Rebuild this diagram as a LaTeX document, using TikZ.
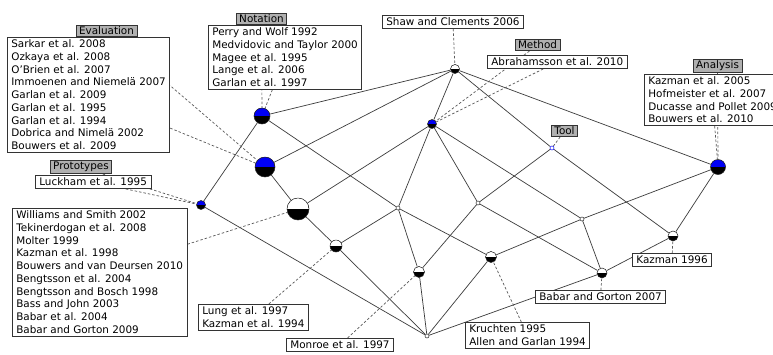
\documentclass[tikz,border=0pt]{standalone}
\usepackage{fontspec}
\newfontfamily\reffont{DejaVu Sans}
\usetikzlibrary{positioning,backgrounds}
\definecolor{hdrgray}{RGB}{176,176,176}
\definecolor{cptblue}{RGB}{0,0,245}
\definecolor{linkgray}{RGB}{60,60,60}

\begin{document}
\begin{tikzpicture}[x=1pt, y=-1pt,
    lbl/.style={draw=black!80, fill=white, line width=0.7pt, align=left, inner xsep=4pt, inner ysep=2.6pt, font=\reffont\fontsize{10.4}{12.7}\selectfont},
    hdr/.style={lbl, fill=hdrgray, inner xsep=3pt, inner ysep=1.6pt, anchor=south},
    cpt/.style={circle, draw=black!85, line width=0.5pt, fill=black, inner sep=0pt, minimum size=#1},
    half/.style={path picture={\fill[#1] (path picture bounding box.west) rectangle (path picture bounding box.north east);}},
    dot/.style={circle, draw=black!85, fill=white, line width=0.5pt, inner sep=0pt, minimum size=4pt},
    link/.style={draw=linkgray, line width=0.7pt},
    lead/.style={draw=black!65, line width=0.7pt, dash pattern=on 2.5pt off 2pt}
]
\useasboundingbox (0,0) rectangle (773,354);

% concepts
\node[cpt=9pt, half=white] (top) at (455,69) {};
\node[cpt=16pt, half=cptblue] (notation) at (262,116) {};
\node[cpt=20pt, half=cptblue] (evaluation) at (265,167) {};
\node[cpt=9pt, half=cptblue] (prototypes) at (201,205) {};
\node[cpt=22pt, half=white] (williams) at (298,209) {};
\node[cpt=9pt, half=cptblue] (method) at (432,124) {};
\node[dot, draw=cptblue] (tool) at (552,148) {};
\node[cpt=15pt, half=cptblue] (analysis) at (718,167) {};
\node[cpt=12pt, half=white] (lung) at (336,246) {};
\node[dot] (c1) at (398,208) {};
\node[dot] (c2) at (478,203) {};
\node[dot] (c3) at (582,219) {};
\node[cpt=10pt, half=white] (kazman) at (673,236) {};
\node[cpt=11pt, half=white] (kruchten) at (491,257) {};
\node[cpt=10pt, half=white] (babar) at (602,273) {};
\node[cpt=11pt, half=white] (monroe) at (419,272) {};
\node[dot] (bottom) at (427,336) {};

% labels
\node[lbl, anchor=north west] (evallist) at (7,37) {Sarkar et al. 2008\\Ozkaya et al. 2008\\O’Brien et al. 2007\\Immoenen and Niemelä 2007\\Garlan et al. 2009\\Garlan et al. 1995\\Garlan et al. 1994\\Dobrica and Nimelä 2002\\Bouwers et al. 2009};
\node[hdr] (evalhead) at (106.5,37) {Evaluation};
\node[lbl, anchor=north west] (notalist) at (208,25) {Perry and Wolf 1992\\Medvidovic and Taylor 2000\\Magee et al. 1995\\Lange et al. 2006\\Garlan et al. 1997};
\node[hdr] (notahead) at (261.5,25) {Notation};
\node[lbl, anchor=north west] (shawlist) at (382,15) {Shaw and Clements 2006};
\node[hdr] (methhead) at (537.5,51) {Method};
\node[lbl, anchor=north west] (methlist) at (487,55) {Abrahamsson et al. 2010};
\node[hdr] (toolhead) at (564.5,137) {Tool};
\node[hdr] (analhead) at (717.5,73) {Analysis};
\node[lbl, anchor=north west] (anallist) at (644,74) {Kazman et al. 2005\\Hofmeister et al. 2007\\Ducasse and Pollet 2009\\Bouwers et al. 2010};
\node[hdr] (protohead) at (81,174) {Prototypes};
\node[lbl, anchor=north west] (protolist) at (35,175) {Luckham et al. 1995};
\node[lbl, anchor=north west] (willlist) at (12,208) {Williams and Smith 2002\\Tekinerdogan et al. 2008\\Molter 1999\\Kazman et al. 1998\\Bouwers and van Deursen 2010\\Bengtsson et al. 2004\\Bengtsson and Bosch 1998\\Bass and John 2003\\Babar et al. 2004\\Babar and Gorton 2009};
\node[lbl, anchor=north west] (lunglist) at (198,304) {Lung et al. 1997\\Kazman et al. 1994};
\node[lbl, anchor=north west] (monroelist) at (286,338) {Monroe et al. 1997};
\node[lbl, anchor=north west] (kruchtenlist) at (465,322) {Kruchten 1995\\Allen and Garlan 1994};
\node[lbl, anchor=north west] (babarlist) at (535,290) {Babar and Gorton 2007};
\node[lbl, anchor=north west] (kazmanlist) at (632,253) {Kazman 1996};

\begin{scope}[on background layer]
\fill[white] (0,0) rectangle (773,354);
% lattice lines
\foreach \a/\b in {top/notation, top/evaluation, top/method, top/tool, top/analysis,
    notation/prototypes, notation/c1, evaluation/williams, prototypes/bottom,
    williams/method, williams/lung, method/c1, method/c2, method/c3,
    tool/c2, tool/kazman, analysis/c3, analysis/kazman, lung/c1, lung/bottom,
    c1/monroe, c1/kruchten, c2/monroe, c2/babar, c3/kruchten, c3/babar,
    kazman/babar, monroe/bottom, kruchten/bottom, babar/bottom}
    \draw[link] (\a) -- (\b);
% leaders
\foreach \a/\b in {evalhead/evaluation, evallist/evaluation, notahead/notation, notalist/notation,
    shawlist/top, methhead/method, methlist/method, toolhead/tool, analhead/analysis,
    anallist/analysis, protohead/prototypes, protolist/prototypes, willlist/williams,
    lunglist/lung, monroelist/monroe, kruchtenlist/kruchten, babarlist/babar, kazmanlist/kazman}
    \draw[lead] (\a) -- (\b);
\end{scope}
\end{tikzpicture}
\end{document}
